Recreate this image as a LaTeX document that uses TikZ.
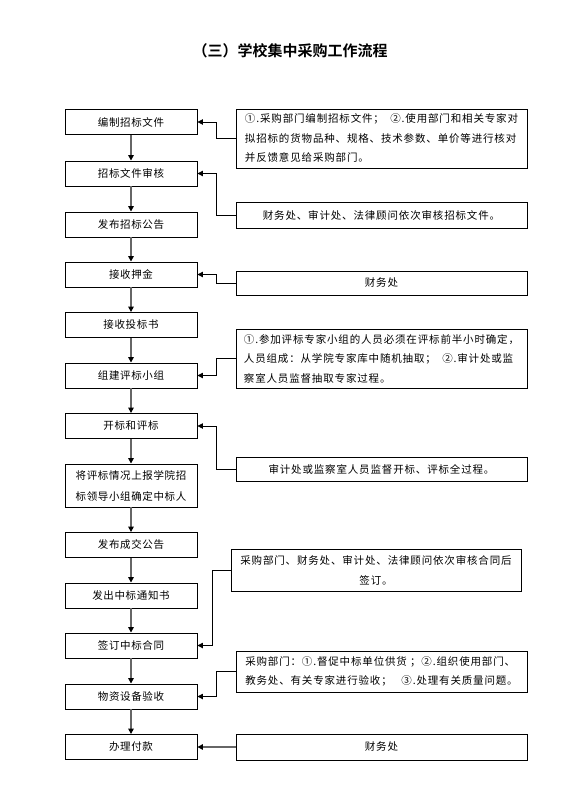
\documentclass[tikz,border=0pt]{standalone}
\usepackage{fontspec}
\setmainfont{Noto Sans CJK SC}
\newfontfamily\cjk{Noto Sans CJK SC}
\newfontfamily\cjkb{Noto Sans CJK SC Bold}
\usetikzlibrary{arrows.meta}
\tikzset{
  lbox/.style={draw=black, line width=0.9pt, minimum width=132pt, minimum height=25pt, inner sep=0pt, align=center, font=\fontsize{10.5}{15}\selectfont\addfontfeature{LetterSpace=6}},
  rbox/.style={draw=black, line width=0.9pt, minimum width=291pt, inner sep=0pt, align=center, font=\fontsize{10.5}{16.5}\selectfont\addfontfeature{LetterSpace=8}},
  flow/.style={draw=black!60, line width=1.4pt, -{Triangle[length=5.5pt,width=5.5pt,fill=black,color=black]}},
  side/.style={draw=black, line width=0.8pt, -{Triangle[length=5.5pt,width=5.5pt]}},
  sideg/.style={draw=black!60, line width=1.4pt, -{Triangle[length=5.5pt,width=5.5pt,fill=black,color=black]}}
}
\begin{document}
\begin{tikzpicture}[x=1pt,y=-1pt]
\useasboundingbox (0,0) rectangle (579,790);
\node[font=\cjkb\fontsize{15}{18}\selectfont] (title) at (290,51) {（三）学校集中采购工作流程};

\node[lbox] (l1) at (131,122) {编制招标文件};
\node[lbox] (l2) at (131,173.5) {招标文件审核};
\node[lbox] (l3) at (131,224.5) {发布招标公告};
\node[lbox] (l4) at (131,274.5) {接收押金};
\node[lbox] (l5) at (131,325) {接收投标书};
\node[lbox] (l6) at (131,375.5) {组建评标小组};
\node[lbox] (l7) at (131,426) {开标和评标};
\node[lbox, minimum height=43pt, font=\fontsize{10.5}{21}\selectfont\addfontfeature{LetterSpace=6}] (l8) at (131,485.5) {将评标情况上报学院招\\标领导小组确定中标人};
\node[lbox] (l9) at (131,545) {发布成交公告};
\node[lbox] (l10) at (131,595.5) {发出中标通知书};
\node[lbox] (l11) at (131,645.5) {签订中标合同};
\node[lbox] (l12) at (131,696.5) {物资设备验收};
\node[lbox] (l13) at (131,747) {办理付款};

\node[rbox, minimum height=59pt, align=left, font=\fontsize{10.5}{19.5}\selectfont\addfontfeature{LetterSpace=8}] (r1) at (381.5,138.5) {①.采购部门编制招标文件；\ \ ②.使用部门和相关专家对\\拟招标的货物品种、规格、技术参数、单价等进行核对\\并反馈意见给采购部门。};
\node[rbox, minimum height=26pt] (r2) at (381.5,215) {财务处、审计处、法律顾问依次审核招标文件。};
\node[rbox, minimum height=24pt] (r3) at (381.5,283) {财务处};
\node[rbox, minimum height=59pt, align=left, font=\fontsize{10.5}{19.5}\selectfont\addfontfeature{LetterSpace=8}] (r4) at (381.5,358.5) {①.参加评标专家小组的人员必须在评标前半小时确定，\\人员组成：从学院专家库中随机抽取；\ \ ②.审计处或监\\察室人员监督抽取专家过程。};
\node[rbox, minimum height=24pt] (r5) at (381.5,469) {审计处或监察室人员监督开标、评标全过程。};
\node[rbox, minimum width=290pt, minimum height=42pt, font=\fontsize{10.5}{20}\selectfont\addfontfeature{LetterSpace=8}] (r6) at (376,570) {采购部门、财务处、审计处、法律顾问依次审核合同后\\签订。};
\node[rbox, minimum height=41pt, align=left, font=\fontsize{10.5}{19.5}\selectfont\addfontfeature{LetterSpace=8}] (r7) at (381.5,671.5) {采购部门：①.督促中标单位供货 ；②.组织使用部门、\\教务处、有关专家进行验收；\ \ \ ③.处理有关质量问题。};
\node[rbox, minimum height=26pt] (r8) at (381.5,747) {财务处};

\foreach \a/\b in {l1/l2,l2/l3,l3/l4,l4/l5,l5/l6,l6/l7,l7/l8,l8/l9,l9/l10,l10/l11,l11/l12,l12/l13}
  \draw[flow] (\a.south) -- (\b.north);

\draw[side] (r1.west) -- ++(-19,0) |- (l1.east);
\draw[side] (r2.west) -- ++(-19,0) |- (l2.east);
\draw[side] (r3.west) -- ++(-19,0) |- (l4.east);
\draw[side] (r4.west) -- ++(-19,0) |- (l6.east);
\draw[side] (r5.west) -- ++(-19,0) |- (l7.east);
\draw[side] (r6.west) -- ++(-18,0) |- (l11.east);
\draw[side] (r7.west) -- ++(-19,0) |- (l12.east);
\draw[sideg] (r8.west) -- (l13.east);
\end{tikzpicture}
\end{document}
